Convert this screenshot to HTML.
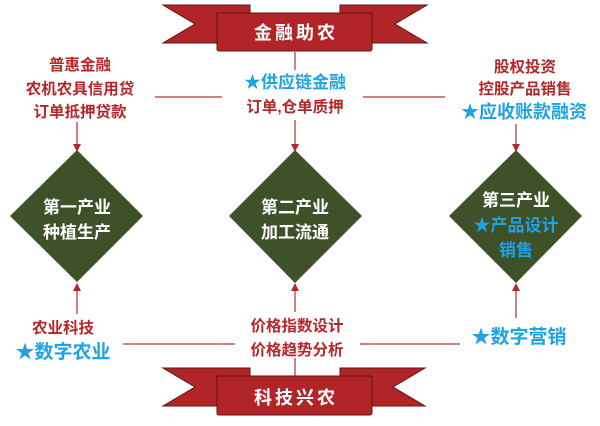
<!DOCTYPE html>
<html><head><meta charset="utf-8"><style>
html,body{margin:0;padding:0;background:#fff;}
svg{display:block;}
text{font-family:"Liberation Sans","Noto Sans CJK SC",sans-serif;font-weight:bold;text-anchor:middle;}
.r{fill:#b5262b;font-size:15.5px;}
.b{fill:#1ea3e3;font-size:17px;}
.w{fill:#fff;font-size:17px;}
.bt{fill:#fff;font-size:18px;letter-spacing:3px;}
</style></head><body>
<svg width="600" height="426" viewBox="0 0 600 426" xmlns="http://www.w3.org/2000/svg">
<defs><marker id="a" markerWidth="8" markerHeight="8" refX="4" refY="4" orient="auto" markerUnits="userSpaceOnUse"><path d="M0,0 L8,4 L0,8 Z" fill="#b5262b"/></marker></defs>
<g stroke="#c0575a" stroke-width="1.5" fill="none">
<line x1="155" y1="97" x2="222" y2="97"/><line x1="363" y1="97" x2="445" y2="97"/>
<line x1="295" y1="52" x2="295" y2="70"/>
<line x1="77" y1="122" x2="77" y2="148" marker-end="url(#a)"/>
<line x1="295" y1="120" x2="295" y2="148" marker-end="url(#a)"/>
<line x1="516" y1="124" x2="516" y2="148" marker-end="url(#a)"/>
<line x1="123" y1="344" x2="235" y2="344"/><line x1="360" y1="344" x2="460" y2="344"/>
<line x1="77" y1="314" x2="77" y2="287" marker-end="url(#a)"/>
<line x1="295" y1="312" x2="295" y2="287" marker-end="url(#a)"/>
<line x1="516" y1="318" x2="516" y2="287" marker-end="url(#a)"/>
<line x1="295" y1="358" x2="295" y2="376"/>
</g>
<g fill="#3e5129">
<polygon points="77,150 143,216 77,282 10,216"/>
<polygon points="295,150 362,216 295,283 229,216"/>
<polygon points="516,150 582,216 516,283 449,216"/>
</g>
<!-- top banner -->
<g fill="#b12529" stroke="#5e1414" stroke-width="1">
<polygon points="163,5 250,5 250,13 217,13 217,43 163,43 195,24"/>
<polygon points="427,5 340,5 340,13 372,13 372,43 427,43 395,24"/>
<rect x="217" y="13" width="155" height="38" rx="2"/>
</g>
<text class="bt" x="296" y="39">金融助农</text>
<!-- bottom banner -->
<g fill="#b12529" stroke="#5e1414" stroke-width="1">
<polygon points="163,368 250,368 250,376 217,376 217,406 163,406 195,387"/>
<polygon points="425,368 340,368 340,376 372,376 372,406 425,406 393,387"/>
<rect x="217" y="376" width="155" height="39" rx="2"/>
</g>
<text class="bt" x="296" y="404">科技兴农</text>
<text class="r" x="80" y="70">普惠金融</text>
<text class="r" x="80" y="94">农机农具信用贷</text>
<text class="r" x="80" y="117">订单抵押贷款</text>
<text class="b" x="295" y="88">★供应链金融</text>
<text class="r" x="295" y="112">订单,仓单质押</text>
<text class="r" x="525" y="72">股权投资</text>
<text class="r" x="525" y="94">控股产品销售</text>
<text class="b" x="524" y="118" style="font-size:18px">★应收账款融资</text>
<text class="w" x="77" y="213">第一产业</text>
<text class="w" x="77" y="238">种植生产</text>
<text class="w" x="295" y="213">第二产业</text>
<text class="w" x="295" y="238">加工流通</text>
<text class="w" x="516" y="206">第三产业</text>
<text class="b" x="516" y="231">★产品设计</text>
<text class="b" x="516" y="256">销售</text>
<text class="r" x="63" y="333">农业科技</text>
<text class="b" x="63" y="358" style="font-size:19px">★数字农业</text>
<text class="r" x="297" y="331">价格指数设计</text>
<text class="r" x="297" y="355">价格趋势分析</text>
<text class="b" x="519" y="343" style="font-size:19px">★数字营销</text>
</svg>
</body></html>
